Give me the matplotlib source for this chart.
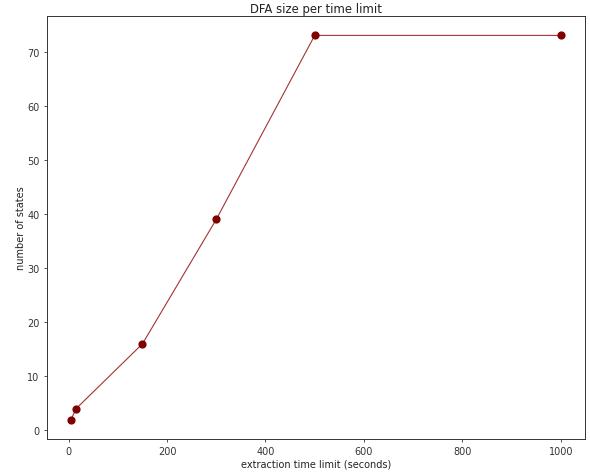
import matplotlib
matplotlib.use("Agg")
import matplotlib.pyplot as plt

# time limits (seconds) and resulting number of DFA states
time_limits = [5, 15, 150, 300, 500, 1000]
num_states = [2, 4, 16, 39, 73, 73]

plt.rcParams['font.size'] = 7
plt.rcParams['text.color'] = '#222222'
plt.rcParams['axes.labelcolor'] = '#222222'
plt.rcParams['xtick.color'] = '#333333'
plt.rcParams['ytick.color'] = '#333333'

fig = plt.figure(figsize=(5.9, 4.77), dpi=100)
ax = fig.add_axes([0.079, 0.078, 0.913, 0.886])
ax.plot(time_limits, num_states, color='darkred', linewidth=0.8, alpha=0.8)
ax.scatter(time_limits, num_states, color='maroon', s=24, zorder=3)
ax.set_title("DFA size per time limit", fontsize=8.4, pad=3)
ax.set_xlabel("extraction time limit (seconds)", labelpad=2)
ax.set_ylabel("number of states", labelpad=1)
ax.tick_params(width=0.6, length=2.5, pad=2.5)
for s in ax.spines.values():
    s.set_linewidth(0.7)
    s.set_color('#333333')

fig.savefig("out.png", dpi=100)
